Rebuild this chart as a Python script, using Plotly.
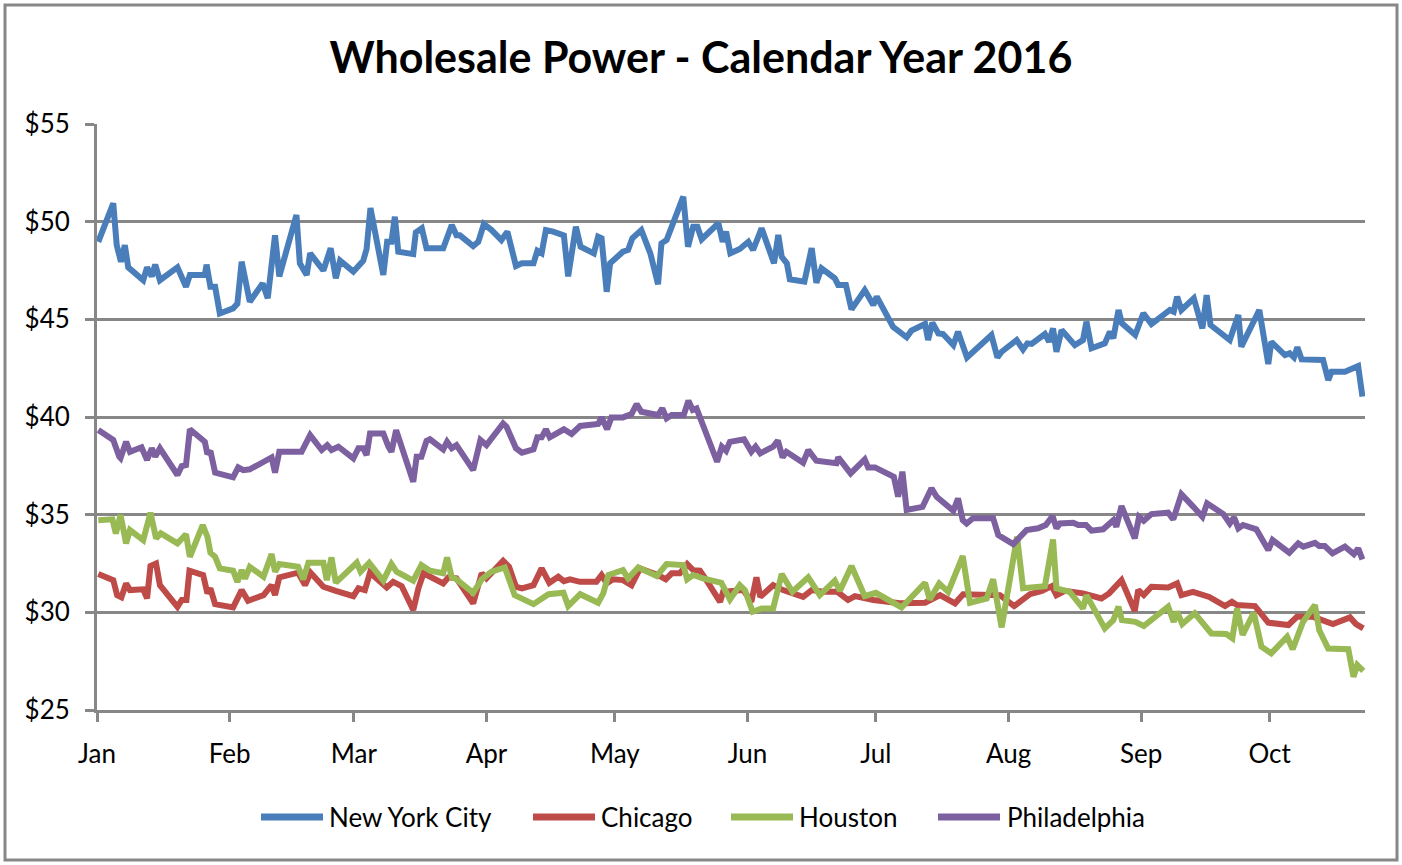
import pandas as pd
import plotly.graph_objects as go

# ---- data: day offsets from 2016-01-01 and prices ($/MWh) ----
nyc_day = [0.3,3.8,4.6,5.6,6.5,7.3,10.8,11.7,12.8,13.6,14.7,18.8,20.8,21.7,25.2,25.6,26.5,27.6,28.7,31.8,32.8,33.8,35.7,38.7,39.9,41.6,42.6,46.6,47.4,49.0,49.8,52.9,54.6,55.8,56.8,59.9,62.2,63.0,63.9,66.9,67.8,68.8,69.6,70.4,73.9,74.5,75.9,77.0,80.9,82.9,84.0,84.8,87.9,89.1,90.4,92.2,94.5,95.9,97.9,99.3,102.0,102.9,103.9,104.9,106.6,109.1,110.1,111.9,113.0,116.1,117.1,117.9,119.1,119.9,122.9,124.1,125.1,127.2,129.3,131.1,131.9,133.1,137.0,138.1,139.3,140.3,141.3,145.2,146.2,147.0,148.0,150.2,152.2,153.3,155.3,158.2,159.2,160.0,161.2,161.9,165.3,167.0,168.1,169.3,172.4,173.2,175.0,176.3,179.4,181.4,182.2,186.0,189.2,190.3,193.5,194.2,195.2,196.6,197.7,200.1,201.2,203.3,209.0,210.4,211.4,214.9,216.4,217.4,218.4,221.5,222.5,223.4,224.2,225.4,228.5,230.4,231.2,232.4,235.5,236.7,237.5,238.7,239.5,242.6,244.5,246.4,250.7,251.6,252.4,253.4,256.3,258.3,259.3,260.2,264.7,266.7,267.4,271.6,273.7,274.4,277.6,278.7,279.7,280.5,281.5,286.5,287.7,288.5,291.6,294.7,295.7]
nyc_val = [48.97,50.94,48.8,47.95,48.8,47.66,47.0,47.66,47.2,47.8,47.0,47.66,46.67,47.27,47.27,47.8,46.67,46.67,45.3,45.56,45.8,47.95,45.9,46.84,46.08,49.3,47.2,50.34,47.87,47.27,48.38,47.5,48.64,47.1,48.0,47.44,48.0,48.6,50.7,47.27,48.97,48.97,50.25,48.46,48.34,49.45,49.66,48.64,48.64,49.83,49.3,49.3,48.75,48.97,49.88,49.57,49.06,49.49,47.73,47.87,47.87,48.51,48.38,49.57,49.49,49.3,47.2,49.74,48.72,48.38,49.23,49.15,46.41,47.87,48.46,48.55,49.15,49.57,48.38,46.8,48.89,49.06,51.28,48.72,49.74,49.74,49.1,49.92,48.97,49.49,48.38,48.6,48.97,48.55,49.66,47.87,49.32,48.2,47.87,47.05,46.93,48.64,46.87,47.61,47.1,46.76,46.76,45.51,46.5,45.73,46.16,44.62,44.08,44.42,44.76,43.94,44.83,44.28,44.25,43.68,44.37,43.05,44.2,43.05,43.34,43.94,43.46,43.77,43.74,44.25,43.85,44.54,43.34,44.45,43.68,43.94,44.88,43.52,43.77,44.37,44.03,45.48,44.8,44.2,45.31,44.76,45.48,45.39,46.16,45.48,46.08,44.54,46.24,44.71,43.94,45.22,43.6,45.48,42.71,43.85,43.17,43.26,43.05,43.57,42.95,42.92,41.89,42.32,42.32,42.61,41.04]

chi_day = [0.3,3.8,4.7,5.7,6.8,7.7,10.8,11.7,12.5,13.8,14.7,18.8,19.8,20.9,21.6,24.8,25.8,26.5,27.6,31.8,33.8,35.3,38.9,40.8,41.6,42.6,47.0,48.6,49.9,52.9,55.8,59.9,61.1,62.6,63.8,67.7,69.2,71.2,73.9,75.1,76.3,80.9,82.1,84.0,87.9,89.9,91.0,94.9,96.3,97.9,99.3,102.0,103.9,105.7,107.8,109.1,110.5,112.9,116.7,117.9,119.1,120.6,122.9,124.9,126.9,129.2,131.1,132.9,134.3,136.2,137.9,139.3,140.9,142.4,145.6,146.3,151.0,152.9,154.1,155.0,158.0,160.3,165.0,167.0,169.7,173.0,175.5,177.1,181.4,187.6,193.5,197.0,200.5,202.4,204.7,211.0,214.3,218.0,220.8,223.1,224.2,226.2,230.4,234.7,236.5,239.4,242.5,243.3,244.6,246.4,250.3,252.4,253.4,256.1,259.9,263.6,265.2,266.4,270.6,273.7,278.4,280.4,284.2,288.8,292.8,294.2,295.9]
chi_val = [31.96,31.65,30.88,30.77,31.48,31.14,31.18,30.71,32.37,32.5,31.39,30.28,30.63,30.63,32.13,31.91,30.97,31.23,30.42,30.25,31.14,30.59,30.88,31.39,30.88,31.79,32.03,31.39,32.03,31.31,31.1,30.83,31.23,31.14,32.03,31.27,31.56,31.34,30.12,31.23,32.0,31.48,31.79,31.74,30.46,32.0,31.74,32.64,32.33,31.31,31.23,31.39,32.25,31.51,31.82,31.6,31.69,31.56,31.56,31.91,31.48,31.69,31.65,31.39,32.25,32.08,31.91,31.69,32.0,32.0,32.47,32.16,32.13,31.65,30.54,31.05,31.14,30.54,31.79,30.79,31.39,31.14,30.79,31.14,31.05,31.05,30.63,30.83,30.63,30.46,30.49,30.88,30.46,30.93,30.93,30.88,30.32,30.93,31.1,31.34,30.88,31.1,30.97,30.71,30.97,31.65,30.07,31.14,30.88,31.31,31.27,31.48,30.88,31.05,30.79,30.32,30.54,30.37,30.32,29.47,29.35,29.77,29.77,29.4,29.74,29.4,29.18]

hou_day = [0.3,3.6,4.4,5.5,6.8,7.7,10.8,12.5,13.8,14.9,18.8,20.8,21.7,24.7,25.8,26.5,27.6,28.7,31.8,32.8,33.8,34.6,35.7,38.9,40.8,41.6,42.6,47.0,48.2,49.4,52.9,53.7,54.8,55.8,60.7,61.6,63.6,66.9,68.8,70.0,73.9,75.8,77.8,80.9,81.8,82.9,84.0,87.9,89.9,92.2,95.3,97.6,102.0,103.9,105.5,109.0,110.1,112.9,117.1,118.3,119.5,122.9,124.1,126.5,130.8,133.1,137.0,137.9,139.3,141.6,145.9,147.9,150.2,151.4,153.2,155.3,158.0,160.0,162.5,166.2,168.9,172.4,173.6,176.3,179.4,182.0,188.0,193.5,194.6,196.8,198.9,202.3,204.0,207.9,209.4,211.4,215.0,216.4,221.5,223.4,224.2,227.3,230.4,231.2,235.5,237.5,238.7,239.5,242.6,244.6,250.3,251.6,252.4,253.6,256.5,260.4,263.9,265.3,266.4,267.7,270.3,272.1,274.4,278.1,279.4,281.8,284.6,285.6,287.7,292.4,293.6,294.5,295.9]
hou_val = [34.72,34.76,34.04,34.98,33.53,34.21,33.7,35.1,33.79,34.04,33.53,34.0,32.84,34.47,33.87,33.05,32.84,32.25,32.13,31.56,32.16,31.73,32.33,31.82,32.98,32.08,32.47,32.33,31.69,32.54,32.54,31.65,32.81,31.52,32.54,32.08,32.54,31.62,32.47,32.08,31.62,32.42,32.13,32.0,32.81,31.79,31.69,31.0,31.69,32.08,32.3,30.88,30.42,30.71,30.93,31.0,30.32,30.93,30.49,30.97,31.91,32.16,31.74,32.3,31.86,32.47,32.42,31.69,31.91,31.74,31.51,30.66,31.39,31.14,30.03,30.2,30.2,31.96,31.05,31.79,30.88,31.62,31.1,32.37,30.83,31.0,30.25,31.51,30.66,31.48,31.05,32.88,30.49,30.71,31.69,29.23,33.87,31.23,31.34,33.73,31.23,31.05,30.2,30.88,29.18,29.6,30.29,29.6,29.51,29.3,30.29,29.51,30.03,29.4,29.95,28.92,28.89,28.67,30.2,28.84,29.98,28.24,27.9,28.75,28.11,29.51,30.37,29.09,28.15,28.11,26.7,27.3,27.0]

phl_day = [0.3,3.8,5.2,5.5,6.8,7.7,10.4,11.7,12.8,13.6,14.7,18.8,19.8,20.8,21.7,25.2,25.8,26.5,27.6,31.8,33.0,34.2,35.7,40.8,41.6,42.6,47.8,49.8,52.5,53.8,54.8,56.4,59.9,61.1,62.2,63.0,63.8,66.9,68.1,68.8,69.9,73.9,74.7,75.8,77.0,77.8,80.9,81.8,82.9,84.0,87.9,89.6,91.0,94.9,95.7,97.9,99.3,102.0,102.9,103.9,104.9,105.8,109.1,110.9,112.9,117.1,117.9,119.2,120.2,122.9,124.9,126.1,127.2,131.1,132.1,133.1,134.3,137.1,138.2,139.2,140.1,141.7,144.9,146.0,147.0,147.9,151.2,152.9,153.9,155.0,158.0,159.1,160.2,161.1,165.0,166.2,168.1,172.8,173.2,176.1,179.4,180.2,181.8,186.2,187.2,188.2,189.2,192.9,195.0,196.2,200.1,201.2,202.3,203.2,204.7,209.4,210.6,214.1,217.2,219.9,221.7,223.3,224.2,225.0,228.1,229.3,231.1,232.4,235.1,237.5,238.2,239.4,242.5,243.5,244.6,246.4,250.3,251.5,253.4,256.2,258.3,259.4,263.2,264.7,265.7,266.7,267.8,270.9,273.7,274.7,278.6,280.7,281.9,284.6,285.6,286.9,288.7,291.6,293.7,294.7,295.7]
phl_val = [39.33,38.82,37.97,37.9,38.73,38.22,38.45,37.8,38.4,37.97,38.4,37.03,37.49,37.54,39.37,38.73,38.1,38.27,37.15,36.91,37.42,37.28,37.32,37.93,37.15,38.22,38.22,39.07,38.31,38.56,38.31,38.48,37.88,38.4,38.4,38.05,39.16,39.16,38.48,38.22,39.33,36.68,37.97,37.97,38.78,38.86,38.34,38.73,38.4,38.56,37.28,38.82,38.56,39.67,39.5,38.4,38.17,38.34,38.96,38.96,39.37,38.96,39.37,39.13,39.54,39.64,39.98,39.37,39.98,39.98,40.15,40.66,40.27,40.1,40.44,39.93,40.1,40.1,40.83,40.36,40.44,39.5,37.71,38.48,38.27,38.73,38.86,38.22,38.48,38.14,38.48,38.79,37.93,38.22,37.66,38.31,37.76,37.63,37.93,37.11,37.83,37.42,37.42,36.94,35.92,37.2,35.24,35.4,36.35,35.92,35.2,35.83,34.72,34.55,34.82,34.82,33.96,33.49,34.21,34.3,34.47,34.93,34.3,34.55,34.59,34.47,34.47,34.18,34.25,34.72,34.38,35.44,33.79,34.89,34.69,35.03,35.1,34.76,36.05,35.4,34.89,35.58,35.03,34.55,34.86,34.3,34.47,34.25,33.19,33.7,33.05,33.53,33.36,33.56,33.39,33.39,33.02,33.36,32.98,33.27,32.71]

series_names = ["New York City", "Chicago", "Houston", "Philadelphia"]
series_colors = ["#4A7EBB", "#BE4B48", "#98B954", "#7D60A0"]

month_ticks = ["2016-01-01","2016-02-01","2016-03-01","2016-04-01","2016-05-01",
               "2016-06-01","2016-07-01","2016-08-01","2016-09-01","2016-10-01"]
month_labels = ["Jan","Feb","Mar","Apr","May","Jun","Jul","Aug","Sep","Oct"]
y_ticks = [25, 30, 35, 40, 45, 50, 55]
y_labels = ["$25", "$30", "$35", "$40", "$45", "$50", "$55"]

START = pd.Timestamp("2016-01-01")

# layout geometry (pixels)
W, H = 1402, 865
PL, PR, PT, PB = 97, 1365, 124, 710
PW, PH = PR - PL, PB - PT


def to_dates(days):
    return [START + pd.to_timedelta(d, unit="D") for d in days]


def px_x(x):
    return (x - PL) / PW


def px_y(y):
    return (PB - y) / PH


fig = go.Figure()
for name, color, days, vals in zip(
        series_names, series_colors,
        [nyc_day, chi_day, hou_day, phl_day],
        [nyc_val, chi_val, hou_val, phl_val]):
    fig.add_trace(go.Scatter(
        x=to_dates(days), y=vals, mode="lines", name=name,
        line=dict(color=color, width=6),
        showlegend=False,
    ))

GRID = "#878787"
FONT = "Lato, 'Open Sans', sans-serif"

# legend drawn as line samples + labels (Excel style: long swatch, text right after)
legend_line_x = [261, 533, 731, 938]
legend_text_x = [327, 599, 797, 1005]
LEG_Y = 817
shapes = [dict(type="rect", xref="paper", yref="paper",
               x0=px_x(5), x1=px_x(1397), y0=px_y(860), y1=px_y(5),
               line=dict(color=GRID, width=3), fillcolor="rgba(0,0,0,0)",
               layer="below")]
annotations = []
for name, color, lx, tx in zip(series_names, series_colors, legend_line_x, legend_text_x):
    shapes.append(dict(type="line", xref="paper", yref="paper",
                       x0=px_x(lx), x1=px_x(lx + 62), y0=px_y(LEG_Y), y1=px_y(LEG_Y),
                       line=dict(color=color, width=7)))
    annotations.append(dict(text=name, xref="paper", yref="paper",
                            x=px_x(tx), y=px_y(LEG_Y), xanchor="left", yanchor="middle",
                            showarrow=False, font=dict(size=26, family=FONT, color="black")))

fig.update_layout(
    width=W, height=H,
    margin=dict(l=PL, r=W - PR, t=PT, b=H - PB),
    paper_bgcolor="white", plot_bgcolor="white",
    font=dict(family=FONT, color="black", size=25),
    title=dict(text="<b>Wholesale Power - Calendar Year 2016</b>",
               x=0.5, xanchor="center", y=1 - 58 / H, yanchor="middle",
               font=dict(size=43, family=FONT, color="black")),
    showlegend=False,
    xaxis=dict(
        type="date",
        range=[START, START + pd.to_timedelta(296.3, unit="D")],
        tickvals=month_ticks, ticktext=month_labels,
        showgrid=False, zeroline=False,
        showline=True, linecolor=GRID, linewidth=3,
        ticks="outside", ticklen=9, tickcolor=GRID, tickwidth=3,
        tickfont=dict(size=26, family=FONT),
        ticklabelstandoff=10,
    ),
    yaxis=dict(
        range=[25, 55],
        tickvals=y_ticks, ticktext=y_labels,
        showgrid=True, gridcolor=GRID, gridwidth=2.5,
        zeroline=False,
        showline=True, linecolor=GRID, linewidth=3,
        ticks="outside", ticklen=9, tickcolor=GRID, tickwidth=2.5,
        tickfont=dict(size=26, family=FONT),
        ticklabelstandoff=10,
    ),
    shapes=shapes,
    annotations=annotations,
)

fig.write_html("out.html", config={"displayModeBar": False},
               post_script="document.body.style.margin='0';")
